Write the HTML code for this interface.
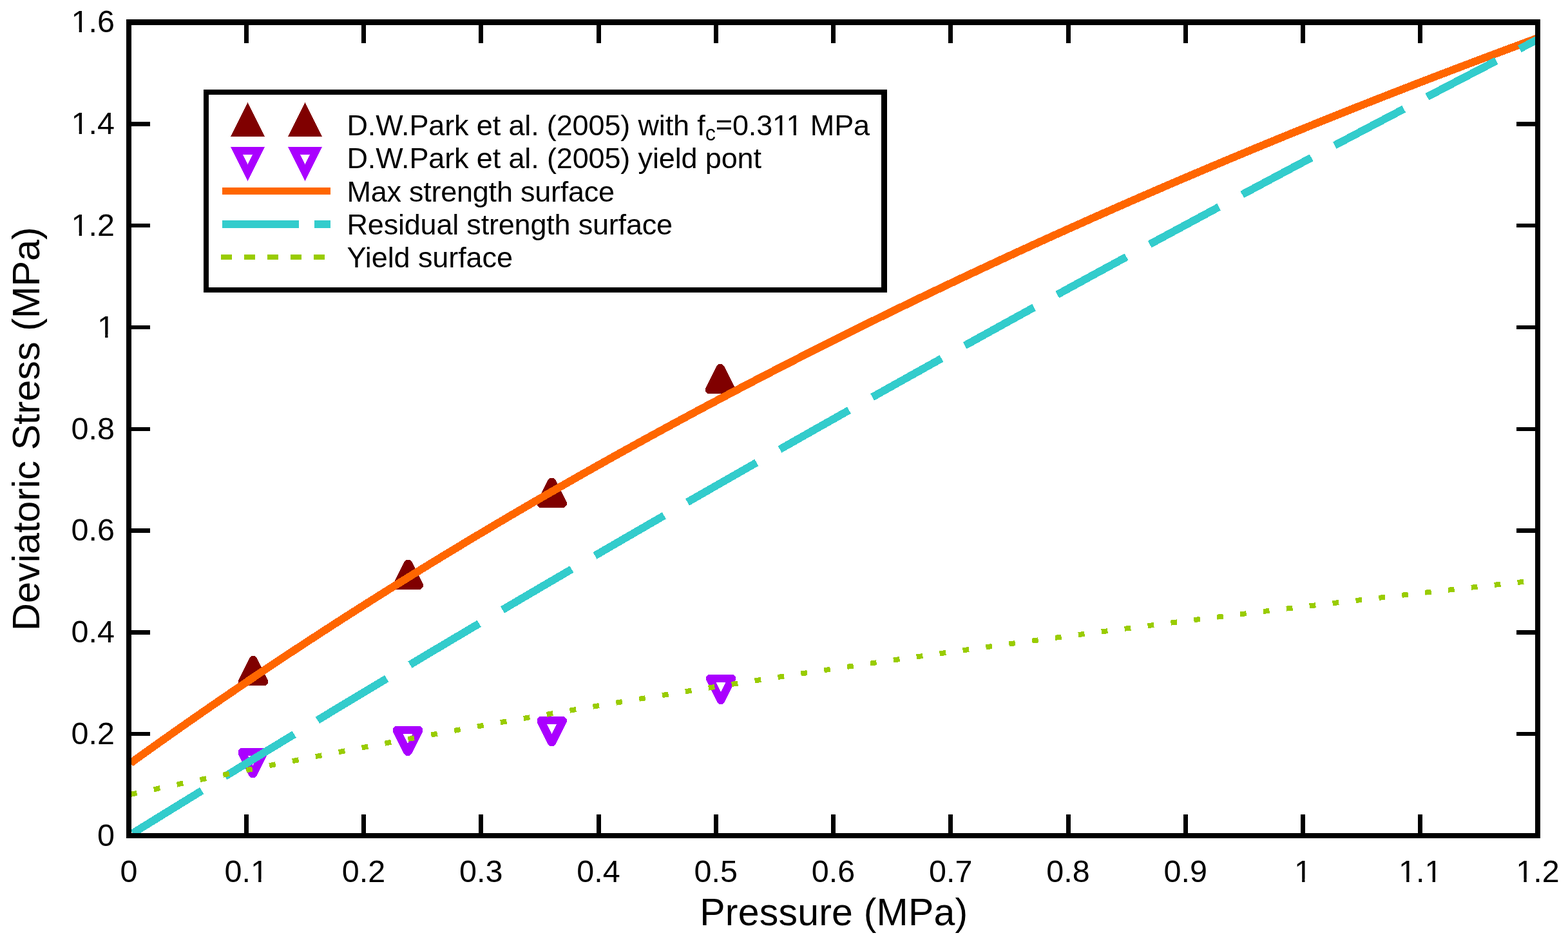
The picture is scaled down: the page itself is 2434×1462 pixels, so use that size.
<!DOCTYPE html>
<html><head><meta charset="utf-8"><title>Deviatoric Stress vs Pressure</title>
<style>
html,body{margin:0;padding:0;background:#fff;}
body{width:2434px;height:1462px;overflow:hidden;}
svg{display:block;}
text{font-family:'Liberation Sans', Arial, Helvetica, sans-serif;fill:#000;}
</style></head><body>
<svg width="2434" height="1462" viewBox="0 0 2434 1462" shape-rendering="crispEdges">
<rect x="0" y="0" width="2434" height="1462" fill="#fff"/>

<path d="M370.00,1055.57 L387.00,1021.57 L390.51,1018.05 L395.49,1018.05 L399.00,1021.57 L416.00,1055.57 L416.00,1060.54 L412.49,1064.05 L373.51,1064.05 L370.00,1060.54 Z" fill="#800000"/>
<path d="M610.50,906.07 L627.50,872.07 L631.01,868.55 L635.99,868.55 L639.50,872.07 L656.50,906.07 L656.50,911.03 L652.99,914.55 L614.01,914.55 L610.50,911.03 Z" fill="#800000"/>
<path d="M833.50,779.07 L850.50,745.07 L854.01,741.55 L858.99,741.55 L862.50,745.07 L879.50,779.07 L879.50,784.03 L875.99,787.55 L837.01,787.55 L833.50,784.03 Z" fill="#800000"/>
<path d="M1095.30,602.37 L1112.30,568.37 L1115.82,564.85 L1120.79,564.85 L1124.30,568.37 L1141.30,602.37 L1141.30,607.34 L1137.79,610.85 L1098.82,610.85 L1095.30,607.34 Z" fill="#800000"/>
<path d="M369.50,1164.57 L373.01,1161.05 L411.99,1161.05 L415.50,1164.57 L415.50,1169.54 L398.50,1203.54 L394.99,1207.05 L390.01,1207.05 L386.50,1203.54 L369.50,1169.54 Z M384.88,1172.85 L400.12,1172.85 L392.50,1188.08 Z" fill="#AA00FF" fill-rule="evenodd"/>
<path d="M610.00,1130.62 L613.51,1127.10 L652.49,1127.10 L656.00,1130.62 L656.00,1135.59 L639.00,1169.59 L635.49,1173.10 L630.51,1173.10 L627.00,1169.59 L610.00,1135.59 Z M625.38,1138.90 L640.62,1138.90 L633.00,1154.13 Z" fill="#AA00FF" fill-rule="evenodd"/>
<path d="M833.50,1115.66 L837.01,1112.15 L875.99,1112.15 L879.50,1115.66 L879.50,1120.63 L862.50,1154.63 L858.99,1158.15 L854.01,1158.15 L850.50,1154.63 L833.50,1120.63 Z M848.88,1123.95 L864.12,1123.95 L856.50,1139.18 Z" fill="#AA00FF" fill-rule="evenodd"/>
<path d="M1096.00,1050.46 L1099.52,1046.95 L1138.48,1046.95 L1142.00,1050.46 L1142.00,1055.43 L1125.00,1089.43 L1121.48,1092.95 L1116.52,1092.95 L1113.00,1089.43 L1096.00,1055.43 Z M1111.38,1058.75 L1126.62,1058.75 L1119.00,1073.98 Z" fill="#AA00FF" fill-rule="evenodd"/>
<defs><clipPath id="pc"><rect x="204" y="38.5" width="2179" height="1254.5"/></clipPath></defs>
<g clip-path="url(#pc)">
<polyline points="202.73,1184.31 208.21,1180.36 213.68,1176.42 219.16,1172.49 224.63,1168.57 230.11,1164.65 235.58,1160.75 241.05,1156.85 246.53,1152.96 252.00,1149.07 257.48,1145.20 262.95,1141.33 268.43,1137.47 273.90,1133.61 279.37,1129.77 284.85,1125.93 290.32,1122.10 295.80,1118.28 301.27,1114.46 306.75,1110.66 312.22,1106.86 317.70,1103.06 323.17,1099.28 328.64,1095.50 334.12,1091.73 339.59,1087.97 345.07,1084.21 350.54,1080.47 356.02,1076.73 361.49,1072.99 366.96,1069.27 372.44,1065.55 377.91,1061.84 383.39,1058.13 388.86,1054.43 394.34,1050.74 399.81,1047.06 405.28,1043.38 410.76,1039.72 416.23,1036.05 421.71,1032.40 427.18,1028.75 432.66,1025.11 438.13,1021.48 443.61,1017.85 449.08,1014.23 454.55,1010.62 460.03,1007.02 465.50,1003.42 470.98,999.82 476.45,996.24 481.93,992.66 487.40,989.09 492.87,985.53 498.35,981.97 503.82,978.42 509.30,974.87 514.77,971.34 520.25,967.81 525.72,964.28 531.19,960.76 536.67,957.25 542.14,953.75 547.62,950.25 553.09,946.76 558.57,943.28 564.04,939.80 569.52,936.33 574.99,932.86 580.46,929.41 585.94,925.95 591.41,922.51 596.89,919.07 602.36,915.64 607.84,912.21 613.31,908.79 618.78,905.38 624.26,901.97 629.73,898.57 635.21,895.18 640.68,891.79 646.16,888.41 651.63,885.04 657.10,881.67 662.58,878.30 668.05,874.95 673.53,871.60 679.00,868.25 684.48,864.92 689.95,861.58 695.43,858.26 700.90,854.94 706.37,851.63 711.85,848.32 717.32,845.02 722.80,841.72 728.27,838.43 733.75,835.15 739.22,831.87 744.69,828.60 750.17,825.34 755.64,822.08 761.12,818.83 766.59,815.58 772.07,812.34 777.54,809.10 783.02,805.87 788.49,802.65 793.96,799.43 799.44,796.22 804.91,793.01 810.39,789.81 815.86,786.62 821.34,783.43 826.81,780.25 832.28,777.07 837.76,773.90 843.23,770.73 848.71,767.57 854.18,764.42 859.66,761.27 865.13,758.12 870.60,754.99 876.08,751.85 881.55,748.73 887.03,745.61 892.50,742.49 897.98,739.38 903.45,736.28 908.93,733.18 914.40,730.08 919.87,727.00 925.35,723.91 930.82,720.84 936.30,717.77 941.77,714.70 947.25,711.64 952.72,708.58 958.19,705.53 963.67,702.49 969.14,699.45 974.62,696.42 980.09,693.39 985.57,690.37 991.04,687.35 996.51,684.34 1001.99,681.33 1007.46,678.33 1012.94,675.33 1018.41,672.34 1023.89,669.35 1029.36,666.37 1034.84,663.40 1040.31,660.43 1045.78,657.46 1051.26,654.50 1056.73,651.54 1062.21,648.59 1067.68,645.65 1073.16,642.71 1078.63,639.78 1084.10,636.85 1089.58,633.92 1095.05,631.00 1100.53,628.09 1106.00,625.18 1111.48,622.27 1116.95,619.37 1122.42,616.48 1127.90,613.59 1133.37,610.71 1138.85,607.83 1144.32,604.95 1149.80,602.08 1155.27,599.22 1160.75,596.36 1166.22,593.50 1171.69,590.65 1177.17,587.81 1182.64,584.97 1188.12,582.13 1193.59,579.30 1199.07,576.47 1204.54,573.65 1210.01,570.83 1215.49,568.02 1220.96,565.22 1226.44,562.41 1231.91,559.62 1237.39,556.82 1242.86,554.04 1248.33,551.25 1253.81,548.47 1259.28,545.70 1264.76,542.93 1270.23,540.17 1275.71,537.41 1281.18,534.65 1286.66,531.90 1292.13,529.15 1297.60,526.41 1303.08,523.68 1308.55,520.94 1314.03,518.22 1319.50,515.49 1324.98,512.77 1330.45,510.06 1335.92,507.35 1341.40,504.64 1346.87,501.94 1352.35,499.25 1357.82,496.56 1363.30,493.87 1368.77,491.18 1374.24,488.51 1379.72,485.83 1385.19,483.16 1390.67,480.50 1396.14,477.84 1401.62,475.18 1407.09,472.53 1412.57,469.88 1418.04,467.24 1423.51,464.60 1428.99,461.96 1434.46,459.33 1439.94,456.71 1445.41,454.09 1450.89,451.47 1456.36,448.85 1461.83,446.25 1467.31,443.64 1472.78,441.04 1478.26,438.44 1483.73,435.85 1489.21,433.26 1494.68,430.68 1500.16,428.10 1505.63,425.53 1511.10,422.96 1516.58,420.39 1522.05,417.83 1527.53,415.27 1533.00,412.71 1538.48,410.16 1543.95,407.62 1549.42,405.07 1554.90,402.54 1560.37,400.00 1565.85,397.47 1571.32,394.95 1576.80,392.42 1582.27,389.91 1587.74,387.39 1593.22,384.88 1598.69,382.38 1604.17,379.88 1609.64,377.38 1615.12,374.89 1620.59,372.40 1626.07,369.91 1631.54,367.43 1637.01,364.95 1642.49,362.48 1647.96,360.01 1653.44,357.54 1658.91,355.08 1664.39,352.62 1669.86,350.17 1675.33,347.72 1680.81,345.27 1686.28,342.83 1691.76,340.39 1697.23,337.95 1702.71,335.52 1708.18,333.09 1713.65,330.67 1719.13,328.25 1724.60,325.83 1730.08,323.42 1735.55,321.01 1741.03,318.61 1746.50,316.21 1751.98,313.81 1757.45,311.42 1762.92,309.03 1768.40,306.64 1773.87,304.26 1779.35,301.88 1784.82,299.51 1790.30,297.14 1795.77,294.77 1801.24,292.40 1806.72,290.04 1812.19,287.69 1817.67,285.34 1823.14,282.99 1828.62,280.64 1834.09,278.30 1839.56,275.96 1845.04,273.63 1850.51,271.30 1855.99,268.97 1861.46,266.64 1866.94,264.32 1872.41,262.01 1877.89,259.69 1883.36,257.39 1888.83,255.08 1894.31,252.78 1899.78,250.48 1905.26,248.18 1910.73,245.89 1916.21,243.60 1921.68,241.32 1927.15,239.04 1932.63,236.76 1938.10,234.48 1943.58,232.21 1949.05,229.94 1954.53,227.68 1960.00,225.42 1965.47,223.16 1970.95,220.91 1976.42,218.66 1981.90,216.41 1987.37,214.17 1992.85,211.93 1998.32,209.69 2003.80,207.46 2009.27,205.23 2014.74,203.00 2020.22,200.78 2025.69,198.56 2031.17,196.34 2036.64,194.13 2042.12,191.92 2047.59,189.71 2053.06,187.51 2058.54,185.31 2064.01,183.11 2069.49,180.92 2074.96,178.73 2080.44,176.54 2085.91,174.36 2091.39,172.18 2096.86,170.00 2102.33,167.82 2107.81,165.65 2113.28,163.49 2118.76,161.32 2124.23,159.16 2129.71,157.00 2135.18,154.85 2140.65,152.70 2146.13,150.55 2151.60,148.40 2157.08,146.26 2162.55,144.12 2168.03,141.99 2173.50,139.86 2178.97,137.73 2184.45,135.60 2189.92,133.48 2195.40,131.36 2200.87,129.24 2206.35,127.13 2211.82,125.02 2217.30,122.91 2222.77,120.80 2228.24,118.70 2233.72,116.60 2239.19,114.51 2244.67,112.42 2250.14,110.33 2255.62,108.24 2261.09,106.16 2266.56,104.08 2272.04,102.00 2277.51,99.93 2282.99,97.86 2288.46,95.79 2293.94,93.73 2299.41,91.66 2304.88,89.60 2310.36,87.55 2315.83,85.50 2321.31,83.45 2326.78,81.40 2332.26,79.36 2337.73,77.31 2343.21,75.28 2348.68,73.24 2354.15,71.21 2359.63,69.18 2365.10,67.15 2370.58,65.13 2376.05,63.11 2381.53,61.09 2387.00,59.08" fill="none" stroke="#FF6600" stroke-width="12" stroke-linejoin="round"/>
<path d="M205.80,1293.40 L208.55,1291.70 L211.31,1289.99 L214.06,1288.29 L216.82,1286.58 L219.57,1284.88 L222.32,1283.17 L225.08,1281.47 L227.83,1279.77 L230.58,1278.06 L233.34,1276.36 L236.09,1274.66 L238.85,1272.96 L241.60,1271.26 L244.35,1269.55 L247.11,1267.85 L249.86,1266.15 L252.62,1264.45 L255.37,1262.75 L258.12,1261.06 L260.88,1259.36 L263.63,1257.66 L266.38,1255.96 L269.14,1254.26 L271.89,1252.57 L274.65,1250.87 L277.40,1249.18 L280.15,1247.48 L282.91,1245.78 L285.66,1244.09 L288.42,1242.40 L291.17,1240.70 L293.92,1239.01 L296.68,1237.32 L299.43,1235.62 L302.18,1233.93 L304.94,1232.24 L307.69,1230.55 L310.45,1228.86 L313.20,1227.17 M349.34,1205.02 L352.09,1203.33 L354.85,1201.65 L357.60,1199.96 L360.36,1198.28 L363.11,1196.60 L365.86,1194.92 L368.62,1193.23 L371.37,1191.55 L374.12,1189.87 L376.88,1188.19 L379.63,1186.51 L382.39,1184.83 L385.14,1183.15 L387.89,1181.47 L390.65,1179.79 L393.40,1178.11 L396.16,1176.43 L398.91,1174.75 L401.66,1173.08 L404.42,1171.40 L407.17,1169.72 L409.92,1168.05 L412.68,1166.37 L415.43,1164.70 L418.19,1163.02 L420.94,1161.35 L423.69,1159.67 L426.45,1158.00 L429.20,1156.33 L431.96,1154.65 L434.71,1152.98 L437.46,1151.31 L440.22,1149.64 L442.97,1147.97 L445.72,1146.29 L448.48,1144.62 L451.23,1142.95 L453.99,1141.28 L456.74,1139.61 M492.88,1117.75 L495.63,1116.08 L498.39,1114.42 L501.14,1112.76 L503.90,1111.09 L506.65,1109.43 L509.40,1107.77 L512.16,1106.11 L514.91,1104.45 L517.66,1102.79 L520.42,1101.13 L523.17,1099.47 L525.93,1097.81 L528.68,1096.15 L531.43,1094.49 L534.19,1092.83 L536.94,1091.18 L539.70,1089.52 L542.45,1087.86 L545.20,1086.21 L547.96,1084.55 L550.71,1082.89 L553.46,1081.24 L556.22,1079.58 L558.97,1077.93 L561.73,1076.28 L564.48,1074.62 L567.23,1072.97 L569.99,1071.32 L572.74,1069.66 L575.50,1068.01 L578.25,1066.36 L581.00,1064.71 L583.76,1063.06 L586.51,1061.41 L589.26,1059.76 L592.02,1058.11 L594.77,1056.46 L597.53,1054.81 L600.28,1053.16 M636.42,1031.57 L639.17,1029.92 L641.93,1028.28 L644.68,1026.64 L647.44,1025.00 L650.19,1023.36 L652.94,1021.71 L655.70,1020.07 L658.45,1018.43 L661.20,1016.79 L663.96,1015.15 L666.71,1013.52 L669.47,1011.88 L672.22,1010.24 L674.97,1008.60 L677.73,1006.96 L680.48,1005.33 L683.24,1003.69 L685.99,1002.05 L688.74,1000.42 L691.50,998.78 L694.25,997.15 L697.00,995.51 L699.76,993.88 L702.51,992.25 L705.27,990.61 L708.02,988.98 L710.77,987.35 L713.53,985.71 L716.28,984.08 L719.04,982.45 L721.79,980.82 L724.54,979.19 L727.30,977.56 L730.05,975.93 L732.80,974.30 L735.56,972.67 L738.31,971.04 L741.07,969.41 L743.82,967.79 M779.96,946.46 L782.71,944.84 L785.47,943.21 L788.22,941.59 L790.98,939.97 L793.73,938.35 L796.48,936.73 L799.24,935.11 L801.99,933.49 L804.74,931.87 L807.50,930.25 L810.25,928.63 L813.01,927.01 L815.76,925.40 L818.51,923.78 L821.27,922.16 L824.02,920.55 L826.78,918.93 L829.53,917.31 L832.28,915.70 L835.04,914.08 L837.79,912.47 L840.54,910.85 L843.30,909.24 L846.05,907.63 L848.81,906.01 L851.56,904.40 L854.31,902.79 L857.07,901.18 L859.82,899.56 L862.58,897.95 L865.33,896.34 L868.08,894.73 L870.84,893.12 L873.59,891.51 L876.34,889.90 L879.10,888.29 L881.85,886.68 L884.61,885.08 L887.36,883.47 M923.50,862.40 L926.25,860.80 L929.01,859.20 L931.76,857.60 L934.52,856.00 L937.27,854.40 L940.02,852.79 L942.78,851.19 L945.53,849.59 L948.28,848.00 L951.04,846.40 L953.79,844.80 L956.55,843.20 L959.30,841.60 L962.05,840.00 L964.81,838.41 L967.56,836.81 L970.32,835.21 L973.07,833.62 L975.82,832.02 L978.58,830.43 L981.33,828.83 L984.08,827.24 L986.84,825.64 L989.59,824.05 L992.35,822.46 L995.10,820.86 L997.85,819.27 L1000.61,817.68 L1003.36,816.09 L1006.12,814.50 L1008.87,812.90 L1011.62,811.31 L1014.38,809.72 L1017.13,808.13 L1019.88,806.54 L1022.64,804.95 L1025.39,803.37 L1028.15,801.78 L1030.90,800.19 M1067.04,779.38 L1069.79,777.80 L1072.55,776.22 L1075.30,774.64 L1078.06,773.05 L1080.81,771.47 L1083.56,769.89 L1086.32,768.31 L1089.07,766.73 L1091.82,765.15 L1094.58,763.57 L1097.33,761.99 L1100.09,760.41 L1102.84,758.84 L1105.59,757.26 L1108.35,755.68 L1111.10,754.10 L1113.86,752.53 L1116.61,750.95 L1119.36,749.37 L1122.12,747.80 L1124.87,746.22 L1127.62,744.65 L1130.38,743.07 L1133.13,741.50 L1135.89,739.92 L1138.64,738.35 L1141.39,736.78 L1144.15,735.20 L1146.90,733.63 L1149.66,732.06 L1152.41,730.49 L1155.16,728.92 L1157.92,727.35 L1160.67,725.78 L1163.42,724.21 L1166.18,722.64 L1168.93,721.07 L1171.69,719.50 L1174.44,717.93 M1210.58,697.38 L1213.33,695.81 L1216.09,694.25 L1218.84,692.69 L1221.60,691.12 L1224.35,689.56 L1227.10,688.00 L1229.86,686.44 L1232.61,684.88 L1235.36,683.32 L1238.12,681.76 L1240.87,680.20 L1243.63,678.64 L1246.38,677.08 L1249.13,675.52 L1251.89,673.96 L1254.64,672.40 L1257.40,670.85 L1260.15,669.29 L1262.90,667.73 L1265.66,666.17 L1268.41,664.62 L1271.16,663.06 L1273.92,661.51 L1276.67,659.95 L1279.43,658.40 L1282.18,656.84 L1284.93,655.29 L1287.69,653.74 L1290.44,652.18 L1293.20,650.63 L1295.95,649.08 L1298.70,647.52 L1301.46,645.97 L1304.21,644.42 L1306.96,642.87 L1309.72,641.32 L1312.47,639.77 L1315.23,638.22 L1317.98,636.67 M1354.12,616.36 L1356.87,614.82 L1359.63,613.28 L1362.38,611.73 L1365.14,610.19 L1367.89,608.65 L1370.64,607.10 L1373.40,605.56 L1376.15,604.02 L1378.90,602.48 L1381.66,600.94 L1384.41,599.39 L1387.17,597.85 L1389.92,596.31 L1392.67,594.77 L1395.43,593.23 L1398.18,591.69 L1400.94,590.16 L1403.69,588.62 L1406.44,587.08 L1409.20,585.54 L1411.95,584.00 L1414.70,582.47 L1417.46,580.93 L1420.21,579.39 L1422.97,577.86 L1425.72,576.32 L1428.47,574.79 L1431.23,573.25 L1433.98,571.72 L1436.74,570.18 L1439.49,568.65 L1442.24,567.12 L1445.00,565.58 L1447.75,564.05 L1450.50,562.52 L1453.26,560.99 L1456.01,559.45 L1458.77,557.92 L1461.52,556.39 M1497.66,536.33 L1500.41,534.81 L1503.17,533.28 L1505.92,531.75 L1508.68,530.23 L1511.43,528.71 L1514.18,527.18 L1516.94,525.66 L1519.69,524.13 L1522.44,522.61 L1525.20,521.09 L1527.95,519.57 L1530.71,518.04 L1533.46,516.52 L1536.21,515.00 L1538.97,513.48 L1541.72,511.96 L1544.48,510.44 L1547.23,508.92 L1549.98,507.40 L1552.74,505.88 L1555.49,504.36 L1558.24,502.84 L1561.00,501.32 L1563.75,499.80 L1566.51,498.29 L1569.26,496.77 L1572.01,495.25 L1574.77,493.74 L1577.52,492.22 L1580.28,490.70 L1583.03,489.19 L1585.78,487.67 L1588.54,486.16 L1591.29,484.65 L1594.04,483.13 L1596.80,481.62 L1599.55,480.10 L1602.31,478.59 L1605.06,477.08 M1641.20,457.26 L1643.95,455.75 L1646.71,454.24 L1649.46,452.74 L1652.22,451.23 L1654.97,449.72 L1657.72,448.22 L1660.48,446.71 L1663.23,445.21 L1665.98,443.70 L1668.74,442.20 L1671.49,440.69 L1674.25,439.19 L1677.00,437.69 L1679.75,436.18 L1682.51,434.68 L1685.26,433.18 L1688.02,431.67 L1690.77,430.17 L1693.52,428.67 L1696.28,427.17 L1699.03,425.67 L1701.78,424.17 L1704.54,422.67 L1707.29,421.17 L1710.05,419.67 L1712.80,418.17 L1715.55,416.67 L1718.31,415.17 L1721.06,413.67 L1723.82,412.18 L1726.57,410.68 L1729.32,409.18 L1732.08,407.69 L1734.83,406.19 L1737.58,404.69 L1740.34,403.20 L1743.09,401.70 L1745.85,400.21 L1748.60,398.71 M1784.74,379.13 L1787.49,377.64 L1790.25,376.15 L1793.00,374.66 L1795.76,373.17 L1798.51,371.68 L1801.26,370.20 L1804.02,368.71 L1806.77,367.22 L1809.52,365.73 L1812.28,364.25 L1815.03,362.76 L1817.79,361.27 L1820.54,359.79 L1823.29,358.30 L1826.05,356.82 L1828.80,355.33 L1831.56,353.85 L1834.31,352.36 L1837.06,350.88 L1839.82,349.40 L1842.57,347.91 L1845.32,346.43 L1848.08,344.95 L1850.83,343.47 L1853.59,341.99 L1856.34,340.50 L1859.09,339.02 L1861.85,337.54 L1864.60,336.06 L1867.36,334.58 L1870.11,333.10 L1872.86,331.62 L1875.62,330.14 L1878.37,328.67 L1881.12,327.19 L1883.88,325.71 L1886.63,324.23 L1889.39,322.75 L1892.14,321.28 M1928.28,301.93 L1931.03,300.45 L1933.79,298.98 L1936.54,297.51 L1939.30,296.04 L1942.05,294.57 L1944.80,293.10 L1947.56,291.63 L1950.31,290.16 L1953.06,288.69 L1955.82,287.22 L1958.57,285.75 L1961.33,284.28 L1964.08,282.81 L1966.83,281.35 L1969.59,279.88 L1972.34,278.41 L1975.10,276.94 L1977.85,275.48 L1980.60,274.01 L1983.36,272.55 L1986.11,271.08 L1988.86,269.61 L1991.62,268.15 L1994.37,266.69 L1997.13,265.22 L1999.88,263.76 L2002.63,262.29 L2005.39,260.83 L2008.14,259.37 L2010.90,257.91 L2013.65,256.44 L2016.40,254.98 L2019.16,253.52 L2021.91,252.06 L2024.66,250.60 L2027.42,249.14 L2030.17,247.68 L2032.93,246.22 L2035.68,244.76 M2071.82,225.63 L2074.57,224.18 L2077.33,222.72 L2080.08,221.27 L2082.84,219.82 L2085.59,218.36 L2088.34,216.91 L2091.10,215.46 L2093.85,214.00 L2096.60,212.55 L2099.36,211.10 L2102.11,209.65 L2104.87,208.20 L2107.62,206.74 L2110.37,205.29 L2113.13,203.84 L2115.88,202.39 L2118.64,200.94 L2121.39,199.49 L2124.14,198.05 L2126.90,196.60 L2129.65,195.15 L2132.40,193.70 L2135.16,192.25 L2137.91,190.81 L2140.67,189.36 L2143.42,187.91 L2146.17,186.47 L2148.93,185.02 L2151.68,183.57 L2154.44,182.13 L2157.19,180.68 L2159.94,179.24 L2162.70,177.79 L2165.45,176.35 L2168.20,174.91 L2170.96,173.46 L2173.71,172.02 L2176.47,170.58 L2179.22,169.13 M2215.36,150.23 L2218.11,148.80 L2220.87,147.36 L2223.62,145.92 L2226.38,144.48 L2229.13,143.05 L2231.88,141.61 L2234.64,140.18 L2237.39,138.74 L2240.14,137.30 L2242.90,135.87 L2245.65,134.43 L2248.41,133.00 L2251.16,131.57 L2253.91,130.13 L2256.67,128.70 L2259.42,127.27 L2262.18,125.83 L2264.93,124.40 L2267.68,122.97 L2270.44,121.54 L2273.19,120.11 L2275.94,118.67 L2278.70,117.24 L2281.45,115.81 L2284.21,114.38 L2286.96,112.95 L2289.71,111.52 L2292.47,110.09 L2295.22,108.66 L2297.98,107.24 L2300.73,105.81 L2303.48,104.38 L2306.24,102.95 L2308.99,101.53 L2311.74,100.10 L2314.50,98.67 L2317.25,97.25 L2320.01,95.82 L2322.76,94.39 M2358.90,75.71 L2359.62,75.34 L2360.34,74.97 L2361.06,74.60 L2361.78,74.23 L2362.50,73.85 L2363.22,73.48 L2363.94,73.11 L2364.66,72.74 L2365.38,72.37 L2366.11,71.99 L2366.83,71.62 L2367.55,71.25 L2368.27,70.88 L2368.99,70.51 L2369.71,70.14 L2370.43,69.77 L2371.15,69.39 L2371.87,69.02 L2372.59,68.65 L2373.31,68.28 L2374.03,67.91 L2374.75,67.54 L2375.47,67.17 L2376.19,66.79 L2376.91,66.42 L2377.63,66.05 L2378.35,65.68 L2379.07,65.31 L2379.79,64.94 L2380.52,64.57 L2381.24,64.19 L2381.96,63.82 L2382.68,63.45 L2383.40,63.08 L2384.12,62.71 L2384.84,62.34 L2385.56,61.97 L2386.28,61.60 L2387.00,61.23" fill="none" stroke="#33CCCC" stroke-width="12" stroke-linejoin="round"/>
<path d="M202.82,1232.93 L206.02,1232.24 L209.22,1231.55 L212.42,1230.86 M238.70,1225.23 L241.90,1224.55 L245.10,1223.87 L248.30,1223.19 M274.58,1217.63 L277.78,1216.96 L280.98,1216.29 L284.18,1215.62 M310.46,1210.14 L313.66,1209.48 L316.86,1208.81 L320.06,1208.15 M346.34,1202.75 L349.54,1202.09 L352.74,1201.44 L355.94,1200.78 M382.22,1195.45 L385.42,1194.81 L388.62,1194.16 L391.82,1193.52 M418.10,1188.25 L421.30,1187.62 L424.50,1186.98 L427.70,1186.34 M453.98,1181.15 L457.18,1180.52 L460.38,1179.89 L463.58,1179.27 M489.86,1174.14 L493.06,1173.52 L496.26,1172.90 L499.46,1172.28 M525.74,1167.22 L528.94,1166.61 L532.14,1166.00 L535.34,1165.38 M561.62,1160.39 L564.82,1159.79 L568.02,1159.18 L571.22,1158.58 M597.50,1153.65 L600.70,1153.05 L603.90,1152.46 L607.10,1151.86 M633.38,1146.99 L636.58,1146.40 L639.78,1145.81 L642.98,1145.23 M669.26,1140.42 L672.46,1139.84 L675.66,1139.26 L678.86,1138.68 M705.14,1133.93 L708.34,1133.36 L711.54,1132.78 L714.74,1132.21 M741.02,1127.52 L744.22,1126.96 L747.42,1126.39 L750.62,1125.82 M776.90,1121.20 L780.10,1120.63 L783.30,1120.07 L786.50,1119.52 M812.78,1114.95 L815.98,1114.39 L819.18,1113.84 L822.38,1113.29 M848.66,1108.77 L851.86,1108.22 L855.06,1107.68 L858.26,1107.13 M884.54,1102.67 L887.74,1102.13 L890.94,1101.59 L894.14,1101.05 M920.42,1096.65 L923.62,1096.12 L926.82,1095.58 L930.02,1095.05 M956.30,1090.70 L959.50,1090.17 L962.70,1089.64 L965.90,1089.12 M992.18,1084.82 L995.38,1084.30 L998.58,1083.78 L1001.78,1083.26 M1028.06,1079.01 L1031.26,1078.49 L1034.46,1077.98 L1037.66,1077.47 M1063.94,1073.27 L1067.14,1072.76 L1070.34,1072.25 L1073.54,1071.74 M1099.82,1067.59 L1103.02,1067.09 L1106.22,1066.59 L1109.42,1066.09 M1135.70,1061.99 L1138.90,1061.49 L1142.10,1060.99 L1145.30,1060.50 M1171.58,1056.44 L1174.78,1055.95 L1177.98,1055.46 L1181.18,1054.97 M1207.46,1050.97 L1210.66,1050.48 L1213.86,1050.00 L1217.06,1049.51 M1243.34,1045.55 L1246.54,1045.07 L1249.74,1044.59 L1252.94,1044.11 M1279.22,1040.20 L1282.42,1039.72 L1285.62,1039.25 L1288.82,1038.78 M1315.10,1034.91 L1318.30,1034.44 L1321.50,1033.97 L1324.70,1033.50 M1350.98,1029.67 L1354.18,1029.21 L1357.38,1028.75 L1360.58,1028.28 M1386.86,1024.50 L1390.06,1024.04 L1393.26,1023.58 L1396.46,1023.13 M1422.74,1019.38 L1425.94,1018.93 L1429.14,1018.48 L1432.34,1018.02 M1458.62,1014.33 L1461.82,1013.88 L1465.02,1013.43 L1468.22,1012.98 M1494.50,1009.32 L1497.70,1008.88 L1500.90,1008.44 L1504.10,1007.99 M1530.38,1004.37 L1533.58,1003.94 L1536.78,1003.50 L1539.98,1003.06 M1566.26,999.48 L1569.46,999.05 L1572.66,998.61 L1575.86,998.18 M1602.14,994.64 L1605.34,994.21 L1608.54,993.78 L1611.74,993.35 M1638.02,989.85 L1641.22,989.43 L1644.42,989.00 L1647.62,988.58 M1673.90,985.12 L1677.10,984.70 L1680.30,984.28 L1683.50,983.86 M1709.78,980.43 L1712.98,980.01 L1716.18,979.60 L1719.38,979.18 M1745.66,975.79 L1748.86,975.38 L1752.06,974.97 L1755.26,974.56 M1781.54,971.21 L1784.74,970.80 L1787.94,970.39 L1791.14,969.99 M1817.42,966.67 L1820.62,966.27 L1823.82,965.86 L1827.02,965.46 M1853.30,962.18 L1856.50,961.78 L1859.70,961.38 L1862.90,960.98 M1889.18,957.73 L1892.38,957.34 L1895.58,956.94 L1898.78,956.55 M1925.06,953.33 L1928.26,952.94 L1931.46,952.55 L1934.66,952.17 M1960.94,948.98 L1964.14,948.60 L1967.34,948.21 L1970.54,947.82 M1996.82,944.67 L2000.02,944.29 L2003.22,943.91 L2006.42,943.53 M2032.70,940.41 L2035.90,940.03 L2039.10,939.65 L2042.30,939.28 M2068.58,936.19 L2071.78,935.81 L2074.98,935.44 L2078.18,935.07 M2104.46,932.01 L2107.66,931.64 L2110.86,931.27 L2114.06,930.90 M2140.34,927.87 L2143.54,927.51 L2146.74,927.14 L2149.94,926.77 M2176.22,923.78 L2179.42,923.42 L2182.62,923.05 L2185.82,922.69 M2212.10,919.72 L2215.30,919.36 L2218.50,919.01 L2221.70,918.65 M2247.98,915.71 L2251.18,915.35 L2254.38,915.00 L2257.58,914.64 M2283.86,911.74 L2287.06,911.38 L2290.26,911.03 L2293.46,910.68 M2319.74,907.80 L2322.94,907.45 L2326.14,907.10 L2329.34,906.75 M2355.62,903.90 L2358.82,903.56 L2362.02,903.21 L2365.22,902.87" fill="none" stroke="#99CC00" stroke-width="8"/>
</g>
<path d="M196,30H2391V1301H196Z M204,39V1293H2383V39Z" fill="#000" fill-rule="evenodd"/>
<path d="M382.25,1297V1264 M382.25,34.5V67 M564.50,1297V1264 M564.50,34.5V67 M746.75,1297V1264 M746.75,34.5V67 M929.00,1297V1264 M929.00,34.5V67 M1111.25,1297V1264 M1111.25,34.5V67 M1293.50,1297V1264 M1293.50,34.5V67 M1475.75,1297V1264 M1475.75,34.5V67 M1658.00,1297V1264 M1658.00,34.5V67 M1840.25,1297V1264 M1840.25,34.5V67 M2022.50,1297V1264 M2022.50,34.5V67 M2204.75,1297V1264 M2204.75,34.5V67" stroke="#000" stroke-width="7" fill="none"/>
<path d="M200,1139.19H233 M2387,1139.19H2354 M200,981.38H233 M2387,981.38H2354 M200,823.56H233 M2387,823.56H2354 M200,665.75H233 M2387,665.75H2354 M200,507.94H233 M2387,507.94H2354 M200,350.12H233 M2387,350.12H2354 M200,192.31H233 M2387,192.31H2354" stroke="#000" stroke-width="6.5" fill="none"/>
<text id="t0" x="200.00" y="1369.0" font-size="48.5" text-anchor="middle">0</text>
<text id="t1" clip-path="url(#ct1)" x="382.25" y="1369.0" font-size="48.5" text-anchor="middle">0.1</text>
<text id="t2" x="564.50" y="1369.0" font-size="48.5" text-anchor="middle">0.2</text>
<text id="t3" x="746.75" y="1369.0" font-size="48.5" text-anchor="middle">0.3</text>
<text id="t4" x="929.00" y="1369.0" font-size="48.5" text-anchor="middle">0.4</text>
<text id="t5" x="1111.25" y="1369.0" font-size="48.5" text-anchor="middle">0.5</text>
<text id="t6" x="1293.50" y="1369.0" font-size="48.5" text-anchor="middle">0.6</text>
<text id="t7" x="1475.75" y="1369.0" font-size="48.5" text-anchor="middle">0.7</text>
<text id="t8" x="1658.00" y="1369.0" font-size="48.5" text-anchor="middle">0.8</text>
<text id="t9" x="1840.25" y="1369.0" font-size="48.5" text-anchor="middle">0.9</text>
<text id="t10" clip-path="url(#ct10)" x="2022.50" y="1369.0" font-size="48.5" text-anchor="middle">1</text>
<text id="t11" clip-path="url(#ct11)" x="2204.75" y="1369.0" font-size="48.5" text-anchor="middle">1.1</text>
<text id="t12" clip-path="url(#ct12)" x="2387.00" y="1369.0" font-size="48.5" text-anchor="middle">1.2</text>
<text id="t13" x="178" y="1312.80" font-size="48.5" text-anchor="end">0</text>
<text id="t14" x="178" y="1154.99" font-size="48.5" text-anchor="end">0.2</text>
<text id="t15" x="178" y="997.17" font-size="48.5" text-anchor="end">0.4</text>
<text id="t16" x="178" y="839.36" font-size="48.5" text-anchor="end">0.6</text>
<text id="t17" x="178" y="681.55" font-size="48.5" text-anchor="end">0.8</text>
<text id="t18" clip-path="url(#ct18)" x="178" y="523.74" font-size="48.5" text-anchor="end">1</text>
<text id="t19" clip-path="url(#ct19)" x="178" y="365.92" font-size="48.5" text-anchor="end">1.2</text>
<text id="t20" clip-path="url(#ct20)" x="178" y="208.11" font-size="48.5" text-anchor="end">1.4</text>
<text id="t21" clip-path="url(#ct21)" x="178" y="50.30" font-size="48.5" text-anchor="end">1.6</text>
<text id="t22" x="1294.25" y="1435.7" font-size="59" text-anchor="middle" textLength="416.00" lengthAdjust="spacing">Pressure (MPa)</text>
<text id="t23" transform="translate(60.9,665.5) rotate(-90)" x="0" y="0" font-size="59.5" text-anchor="middle" textLength="626.80" lengthAdjust="spacing">Deviatoric Stress (MPa)</text>
<rect x="324" y="147" width="1044" height="299" fill="#fff"/>
<path d="M316,139H1377V454H316Z M324,147V446H1368V147Z" fill="#000" fill-rule="evenodd"/>
<polygon points="357.90,211.9 411.10,211.9 384.50,159" fill="#800000"/>
<path d="M357.90,228 L411.10,228 L384.50,280.9 Z M376.80,240.1 L384.50,255.3 L392.20,240.1 Z" fill="#AA00FF" fill-rule="evenodd"/>
<polygon points="446.90,211.9 500.10,211.9 473.50,159" fill="#800000"/>
<path d="M446.90,228 L500.10,228 L473.50,280.9 Z M465.80,240.1 L473.50,255.3 L481.20,240.1 Z" fill="#AA00FF" fill-rule="evenodd"/>
<rect x="344.9" y="290.9" width="168.1" height="10.9" fill="#FF6600"/>
<rect x="344.9" y="342" width="119" height="11.8" fill="#33CCCC"/>
<rect x="487.9" y="342" width="25.1" height="11.8" fill="#33CCCC"/>
<rect x="343.1" y="395" width="16.9" height="7.9" fill="#99CC00"/>
<rect x="379.0" y="395" width="16.9" height="7.9" fill="#99CC00"/>
<rect x="415.0" y="395" width="16.9" height="7.9" fill="#99CC00"/>
<rect x="451.0" y="395" width="16.9" height="7.9" fill="#99CC00"/>
<rect x="487.0" y="395" width="16.9" height="7.9" fill="#99CC00"/>
<text id="t24" clip-path="url(#ct24)" x="538.5" y="210" font-size="45" textLength="811.60" lengthAdjust="spacing">D.W.Park et al. (2005) with f<tspan font-size="32.5" dy="7.5">c</tspan><tspan dy="-10.0">=</tspan><tspan dy="2.5">0.311 MPa</tspan></text>
<text id="t25" x="538.5" y="261" font-size="45" textLength="643.50" lengthAdjust="spacing">D.W.Park et al. (2005) yield pont</text>
<text id="t26" x="538.5" y="312.6" font-size="45" textLength="415.50" lengthAdjust="spacing">Max strength surface</text>
<text id="t27" x="538.5" y="363.8" font-size="45" textLength="505.60" lengthAdjust="spacing">Residual strength surface</text>
<text id="t28" x="538.5" y="414.6" font-size="45" textLength="257.50" lengthAdjust="spacing">Yield surface</text>
<defs><clipPath id="ct1"><path clip-rule="evenodd" d="M0,0H2434V1462H0Z M391.40,1364.15H401.13V1369.97H391.40Z M405.44,1364.15H414.68V1369.97H405.44Z"/></clipPath><clipPath id="ct10"><path clip-rule="evenodd" d="M0,0H2434V1462H0Z M2011.43,1364.15H2021.16V1369.97H2011.43Z M2025.47,1364.15H2034.71V1369.97H2025.47Z"/></clipPath><clipPath id="ct11"><path clip-rule="evenodd" d="M0,0H2434V1462H0Z M2173.46,1364.15H2183.19V1369.97H2173.46Z M2187.50,1364.15H2196.74V1369.97H2187.50Z M2213.90,1364.15H2223.63V1369.97H2213.90Z M2227.94,1364.15H2237.18V1369.97H2227.94Z"/></clipPath><clipPath id="ct12"><path clip-rule="evenodd" d="M0,0H2434V1462H0Z M2355.71,1364.15H2365.44V1369.97H2355.71Z M2369.75,1364.15H2378.99V1369.97H2369.75Z"/></clipPath><clipPath id="ct18"><path clip-rule="evenodd" d="M0,0H2434V1462H0Z M153.44,518.89H163.16V524.71H153.44Z M167.48,518.89H176.72V524.71H167.48Z"/></clipPath><clipPath id="ct19"><path clip-rule="evenodd" d="M0,0H2434V1462H0Z M113.00,361.07H122.73V366.89H113.00Z M127.04,361.07H136.28V366.89H127.04Z"/></clipPath><clipPath id="ct20"><path clip-rule="evenodd" d="M0,0H2434V1462H0Z M113.00,203.26H122.73V209.08H113.00Z M127.04,203.26H136.28V209.08H127.04Z"/></clipPath><clipPath id="ct21"><path clip-rule="evenodd" d="M0,0H2434V1462H0Z M113.00,45.45H122.73V51.27H113.00Z M127.04,45.45H136.28V51.27H127.04Z"/></clipPath><clipPath id="ct24"><path clip-rule="evenodd" d="M0,0H2434V1462H0Z M1201.30,205.50H1210.33V210.90H1201.30Z M1214.33,205.50H1222.90V210.90H1214.33Z M1222.84,205.50H1231.87V210.90H1222.84Z M1235.87,205.50H1244.44V210.90H1235.87Z"/></clipPath></defs>
</svg></body></html>
